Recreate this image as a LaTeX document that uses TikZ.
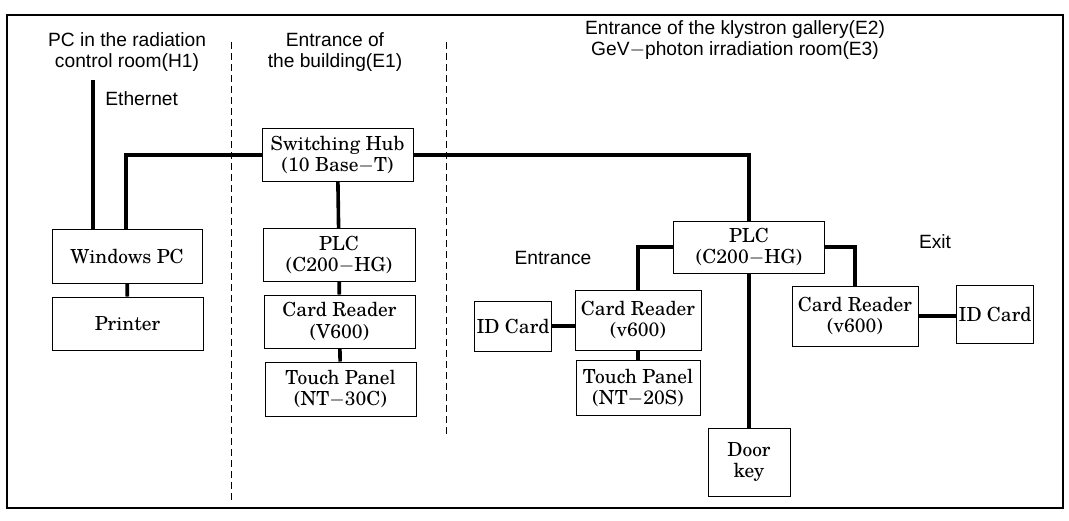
\documentclass[tikz,border=0pt]{standalone}
\usepackage{fontspec}
\setmainfont{TeX Gyre Schola}
\newfontfamily\placefont{Liberation Sans}
\usetikzlibrary{positioning}
\tikzset{
  box/.style     = {draw, line width=0.5pt, fill=white, inner sep=1pt, align=center,
                    font=\fontsize{9.7}{10.8}\selectfont},
  wire/.style    = {line width=1.8pt},
  divider/.style = {line width=0.4pt, dash pattern=on 3.5pt off 2pt},
  place/.style   = {align=center, inner sep=0pt, font=\placefont\fontsize{9.6}{10.6}\selectfont},
}

\begin{document}
\begin{tikzpicture}[x=0.5pt,y=-0.5pt]
  \useasboundingbox (0,0) rectangle (1069,520);
  \draw[line width=0.6pt] (7,15) rectangle (1063,508);
  % zones
  \draw[divider] (231,42) -- (231,500);
  \draw[divider] (446,42) -- (446,435);
  \node[place] (zoneH) at (127,52) {PC in the radiation\\control room(H1)};
  \node[place] (zoneA) at (335,52) {Entrance of\\the building(E1)};
  \node[place] (zoneB) at (735,40) {Entrance of the klystron gallery(E2)\\GeV$-$photon irradiation room(E3)};
  % control room
  \node[box, minimum width=75pt, minimum height=27pt] (winpc) at (127,256) {Windows PC};
  \node[box, minimum width=75.5pt, minimum height=26.5pt] (printer) at (127.5,323.5) {Printer};
  \coordinate (ethtop) at (93,80);
  \coordinate (lan) at (126,0);
  \node[place, anchor=west] (eth) at (105,99) {Ethernet};
  % building entrance
  \node[box, minimum width=75.5pt, minimum height=26.5pt] (hub) at (337.5,155) {Switching Hub\\(10 Base$-$T)};
  \node[box, minimum width=76pt, minimum height=26.5pt] (plcA) at (339,255) {PLC\\(C200$-$HG)};
  \node[box, minimum width=75.5pt, minimum height=26.5pt] (readerA) at (339.5,321.5) {Card Reader\\(V600)};
  \node[box, minimum width=75.5pt, minimum height=27pt] (panelA) at (340.5,389) {Touch Panel\\(NT$-$30C)};
  % gallery
  \node[box, minimum width=75.5pt, minimum height=26pt] (plcB) at (749,247) {PLC\\(C200$-$HG)};
  \node[box, minimum width=63pt, minimum height=30pt] (readerL) at (638,320) {Card Reader\\(v600)};
  \node[box, minimum width=37pt, minimum height=25pt] (idL) at (513,326) {ID Card};
  \node[box, minimum width=62pt, minimum height=27.5pt] (panelL) at (638,388) {Touch Panel\\(NT$-$20S)};
  \node[box, minimum width=63pt, minimum height=30pt] (readerR) at (855,316) {Card Reader\\(v600)};
  \node[box, minimum width=37pt, minimum height=29pt] (idR) at (995,314) {ID Card};
  \node[box, minimum width=41pt, minimum height=34pt] (doorkey) at (749,462) {Door\\key};
  \node[place] (entr) at (553,258) {Entrance};
  \node[place] (exit) at (935,242) {Exit};
  % wiring
  \draw[wire] (ethtop) -- (ethtop |- winpc.north);
  \draw[wire] (hub.west) -| (lan |- winpc.north);
  \draw[wire] (winpc) -- (printer);
  \draw[wire] (hub) -- (plcA);
  \draw[wire] (plcA) -- (readerA);
  \draw[wire] (readerA) -- (panelA);
  \draw[wire] (hub.east) -| (plcB.north);
  \draw[wire] (plcB.west) -| (readerL.north);
  \draw[wire] (plcB.east) -| (readerR.north);
  \draw[wire] (idL.east) -- (idL.east -| readerL.west);
  \draw[wire] (readerL) -- (panelL);
  \draw[wire] (readerR.east) -- (readerR.east -| idR.west);
  \draw[wire] (plcB) -- (doorkey);
\end{tikzpicture}
\end{document}
